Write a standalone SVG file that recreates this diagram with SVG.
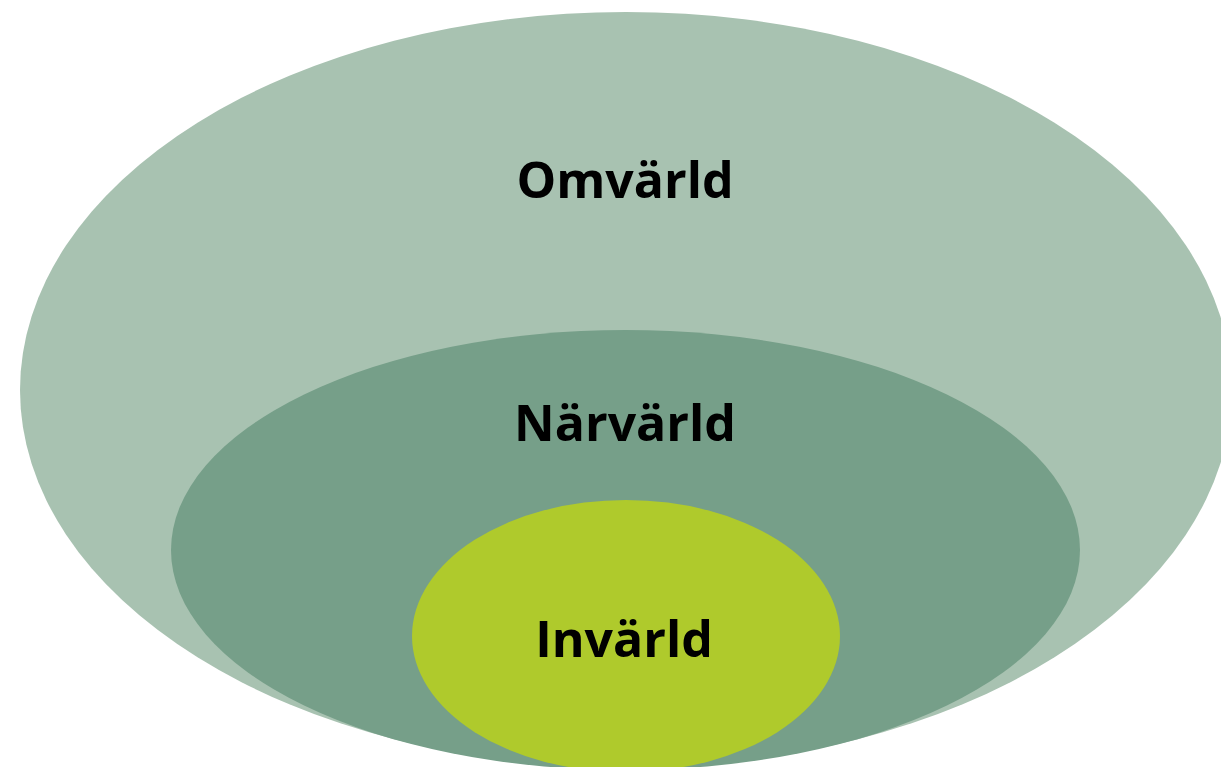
<svg xmlns="http://www.w3.org/2000/svg" width="1221" height="767" viewBox="0 0 1221 767">
<style>
.lbl{font-family:"Open Sans","Liberation Sans",sans-serif;font-weight:bold;font-size:50px;fill:#000;text-anchor:middle}
</style>
<rect width="1221" height="767" fill="#fff"/>
<g id="omvarld">
<ellipse cx="626" cy="390" rx="606" ry="378" fill="#A8C2B1"/>
<text class="lbl" x="625" y="198">Omvärld</text>
</g>
<g id="narvarld">
<ellipse cx="625.5" cy="550" rx="454.5" ry="220" fill="#769F89"/>
<text class="lbl" x="625" y="441">Närvärld</text>
</g>
<g id="invarld">
<ellipse cx="626" cy="636" rx="214" ry="136" fill="#AFCA2C"/>
<text class="lbl" x="624" y="657">Invärld</text>
</g>
<g id="connectors"></g>
</svg>
